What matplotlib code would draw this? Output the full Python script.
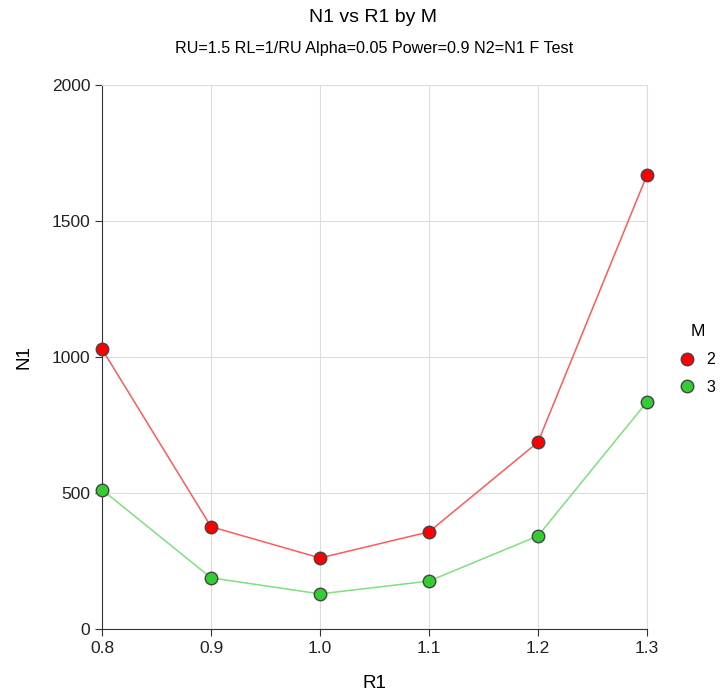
import matplotlib
matplotlib.use("Agg")
import matplotlib.pyplot as plt
from matplotlib.lines import Line2D

plt.rcParams['font.family'] = ['Liberation Sans', 'DejaVu Sans']

# data
r1 = [0.8, 0.9, 1.0, 1.1, 1.2, 1.3]
n1_m2 = [1029, 376, 261, 357, 687, 1669]
n1_m3 = [512, 188, 129, 176, 342, 835]

fig = plt.figure(figsize=(7.2, 6.98), dpi=100)
ax = fig.add_axes([0.1417, 0.0989, 0.7569, 0.7793])

ax.plot(r1, n1_m2, color='#ff5a5a', lw=1.1, marker='o', ms=9,
        mfc='#ff0000', mec='#444444', mew=1, zorder=3, clip_on=False)
ax.plot(r1, n1_m3, color='#7ee07e', lw=1.1, marker='o', ms=9,
        mfc='#33cc33', mec='#444444', mew=1, zorder=3, clip_on=False)

ax.set_xlim(0.8, 1.3)
ax.set_ylim(0, 2000)
ax.set_xticks(r1)
ax.set_xticklabels(['0.8', '0.9', '1.0', '1.1', '1.2', '1.3'])
ax.set_yticks([0, 500, 1000, 1500, 2000])
ax.grid(True, color='#dcdcdc', lw=0.8)
ax.set_axisbelow(True)
for s in ['top', 'right']:
    ax.spines[s].set_color('#dcdcdc')
    ax.spines[s].set_linewidth(0.8)
for s in ['left', 'bottom']:
    ax.spines[s].set_color('#333333')
ax.tick_params(labelsize=12.5, length=5, colors='#333333', labelcolor='#222222')

ax.set_xlabel('R1', fontsize=13.5, labelpad=14)
ax.set_ylabel('N1', fontsize=13.5, labelpad=14)

fig.text(0.518, 0.9755, 'N1 vs R1 by M', ha='center', va='center', fontsize=14)
fig.text(0.519, 0.931, 'RU=1.5 RL=1/RU Alpha=0.05 Power=0.9 N2=N1 F Test',
         ha='center', va='center', fontsize=11.6)

# legend with markers only
handles = [
    Line2D([], [], ls='none', marker='o', ms=9, mfc='#ff0000', mec='#444444', mew=1),
    Line2D([], [], ls='none', marker='o', ms=9, mfc='#33cc33', mec='#444444', mew=1),
]
leg = ax.legend(handles, ['2', '3'], title='M', loc='center left',
                bbox_to_anchor=(1.035, 0.495), frameon=False,
                fontsize=11.5, title_fontsize=12.5,
                handlelength=0.8, handletextpad=0.8, labelspacing=0.8)

fig.savefig('out.png', dpi=100)
